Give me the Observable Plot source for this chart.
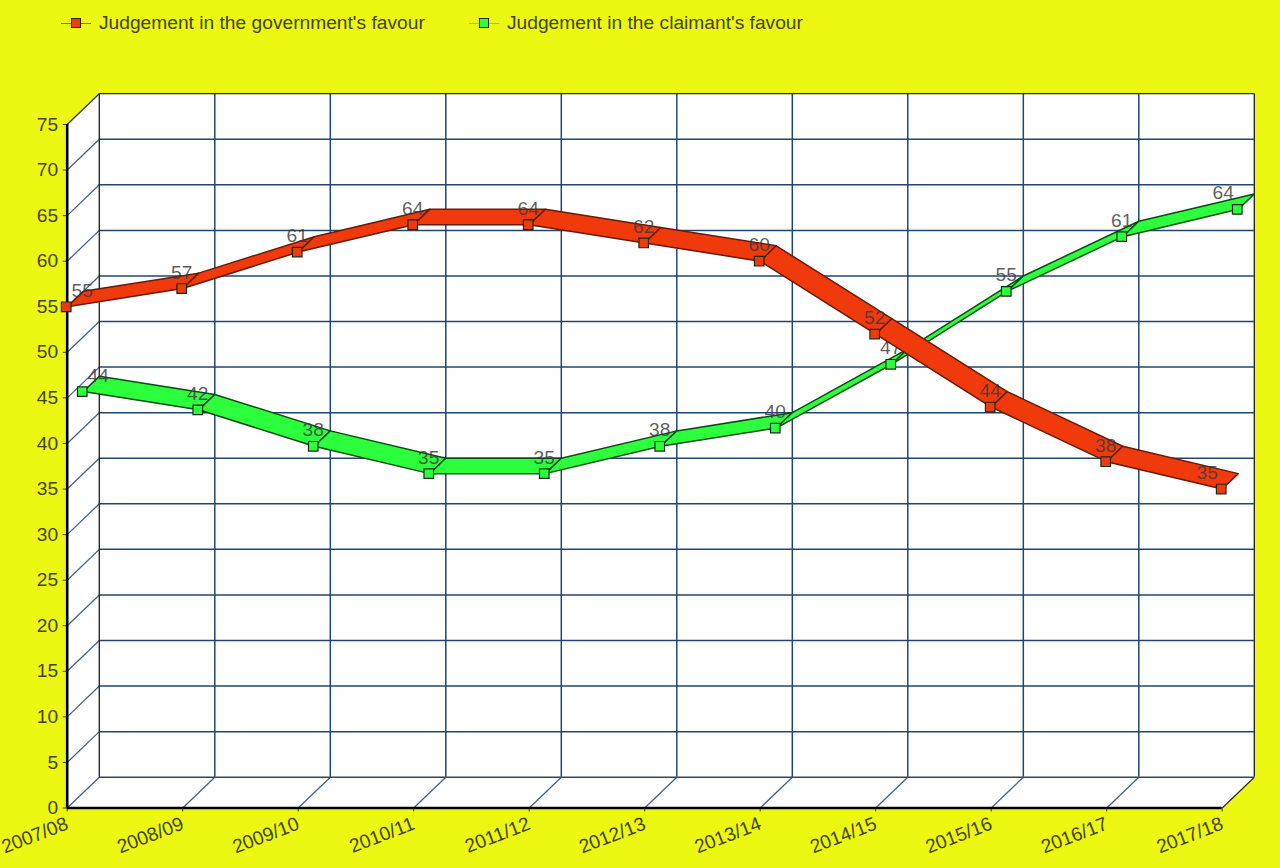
<!DOCTYPE html>
<html>
<head>
<meta charset="utf-8">
<script src="https://cdn.jsdelivr.net/npm/d3@7"></script>
<script src="https://cdn.jsdelivr.net/npm/@observablehq/plot@0.6"></script>
<style>
html,body{margin:0;padding:0;background:#ecf811;overflow:hidden}
#legend{height:60px;position:relative;font:19.2px "Liberation Sans",Arial,sans-serif;color:#43430f}
.item{position:absolute;top:11px;height:24px;line-height:24px;white-space:nowrap}
.sw{position:absolute;left:0;top:12px;width:30px;height:1px}
.sq{position:absolute;left:10px;top:7px;width:8px;height:8px;border:1px solid #222}
.lb{margin-left:38px;display:block}
svg{display:block}
</style>
</head>
<body>
<div id="legend"></div>
<div id="chart"></div>
<script>
const years = ["2007/08","2008/09","2009/10","2010/11","2011/12","2012/13","2013/14","2014/15","2015/16","2016/17","2017/18"];
const government = [55,57,61,64,64,62,60,52,44,38,35];
const claimant = [44,42,38,35,35,38,40,47,55,61,64];
const yTicks = [0,5,10,15,20,25,30,35,40,45,50,55,60,65,70,75];
const governmentName = "Judgement in the government's favour";
const claimantName = "Judgement in the claimant's favour";
const redFill = "#f03a0c", greenFill = "#2cff3c";

// depth of the pseudo-3D box, in data units
const DX = 0.278, DY = 3.38;
const lastX = years.length - 1, topY = 75;
const INK = "#43430f", GRID = "#20466f", EDGE = "#2a2a2a";
const idx = d3.range(years.length);

function ribbon(values, a, b) {
  const pts = [];
  for (let i = 0; i < values.length - 1; i++) {
    const id = i;
    pts.push({id, x:i+a*DX, y:values[i]+a*DY});
    pts.push({id, x:i+1+a*DX, y:values[i+1]+a*DY});
    pts.push({id, x:i+1+b*DX, y:values[i+1]+b*DY});
    pts.push({id, x:i+b*DX, y:values[i]+b*DY});
    pts.push({id, x:i+a*DX, y:values[i]+a*DY});
  }
  return pts;
}

function series(values, depth, fill, edge) {
  const shift = i => i === 0 ? 16 : i === lastX ? -14 : 0;
  return [
    Plot.line(ribbon(values, depth, depth + 0.5), {x:"x", y:"y", z:"id", fill, stroke:edge, strokeWidth:1.5, strokeLinejoin:"round"}),
    Plot.dot(idx, {x:i=>i+depth*DX, y:i=>values[i]+depth*DY, symbol:"square", r:5.4, dx:-1, fill, stroke:"#1a2a1a", strokeWidth:1.2}),
    ...idx.map(i => Plot.text([i], {x:k=>k+depth*DX, y:k=>values[k]+depth*DY, text:k=>String(values[k]),
      fontSize:19.2, fill:"#3a3a3a", fillOpacity:0.82, textAnchor:"middle", lineAnchor:"bottom", dy:-10, dx:shift(i)-1}))
  ];
}

const hexagon = [
  {x:0,y:0},{x:0,y:topY},{x:DX,y:topY+DY},{x:lastX+DX,y:topY+DY},{x:lastX+DX,y:DY},{x:lastX,y:0},{x:0,y:0}
];

const chart = Plot.plot({
  width:1280, height:808,
  marginLeft:66.7, marginRight:58.3, marginTop:64, marginBottom:60.5,
  style:{background:"transparent", fontFamily:'"Liberation Sans",Arial,sans-serif', overflow:"visible"},
  x:{type:"linear", domain:[0,lastX]},
  y:{type:"linear", domain:[0,topY]},
  marks:[
    Plot.line(hexagon, {x:"x", y:"y", fill:"white", stroke:"none"}),
    // left wall diagonals
    Plot.link(yTicks.slice(1,-1), {x1:()=>0, y1:v=>v, x2:()=>DX, y2:v=>v+DY, stroke:"#46628a", strokeWidth:1.3}),
    // floor diagonals
    Plot.link(idx.slice(0,-1), {x1:i=>i, y1:()=>0, x2:i=>i+DX, y2:()=>DY, stroke:"#46628a", strokeWidth:1.3}),
    // back wall
    Plot.ruleY(yTicks.slice(1,-1), {y:v=>v+DY, x1:()=>DX, x2:()=>lastX+DX, stroke:GRID, strokeWidth:1.5}),
    Plot.ruleX(idx.slice(1,-1), {x:i=>i+DX, y1:()=>DY, y2:()=>topY+DY, stroke:GRID, strokeWidth:1.5}),
    Plot.ruleY([0], {y:()=>DY, x1:()=>DX, x2:()=>lastX+DX, stroke:"#3a4450", strokeWidth:1.6}),
    Plot.ruleY([topY], {y:()=>topY+DY, x1:()=>DX, x2:()=>lastX+DX, stroke:EDGE, strokeWidth:1.2}),
    Plot.ruleX([0], {x:()=>DX, y1:()=>DY, y2:()=>topY+DY, stroke:EDGE, strokeWidth:1.4}),
    Plot.ruleX([lastX], {x:()=>lastX+DX, y1:()=>DY, y2:()=>topY+DY, stroke:EDGE, strokeWidth:1.4}),
    Plot.link([0], {x1:()=>0, y1:()=>topY, x2:()=>DX, y2:()=>topY+DY, stroke:EDGE, strokeWidth:1.2}),
    Plot.link([0], {x1:()=>lastX, y1:()=>0, x2:()=>lastX+DX, y2:()=>DY, stroke:EDGE, strokeWidth:1.2}),
    // axes
    Plot.axisY({ticks:yTicks, anchor:"left", fontSize:19.2, fill:INK, stroke:INK, tickSize:4, tickPadding:5, label:null}),
    Plot.axisX({ticks:idx, tickFormat:i=>years[i], anchor:"bottom", fontSize:19.2, fill:INK, stroke:INK, tickSize:4, tickPadding:11, tickRotate:-21, textAnchor:"end", label:null}),
    Plot.ruleY([0], {x1:()=>0, x2:()=>lastX, stroke:"#000", strokeWidth:2.6}),
    Plot.ruleX([0], {y1:()=>0, y2:()=>topY, stroke:"#000", strokeWidth:2.6}),
    // series, back one first
    ...series(claimant, 0.5, greenFill, "#0d4a14"),
    ...series(government, 0, redFill, "#6a1a0a")
  ]
});
document.getElementById("chart").appendChild(chart);

const legend = document.getElementById("legend");
[[governmentName, redFill, 61],[claimantName, greenFill, 469]].forEach(([name,color,left]) => {
  const item = document.createElement("div");
  item.className = "item";
  item.style.left = left + "px";
  item.innerHTML = `<span class="sw" style="background:${color}"></span><span class="sq" style="background:${color}"></span><span class="lb">${name}</span>`;
  legend.appendChild(item);
});
</script>
</body>
</html>
